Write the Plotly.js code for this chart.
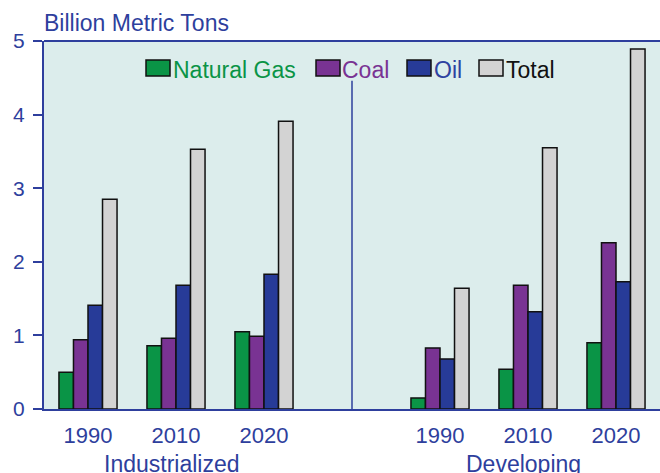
<!DOCTYPE html>
<html>
<head>
<meta charset="utf-8">
<script src="https://cdn.plot.ly/plotly-3.0.1.min.js"></script>
<style>html,body{margin:0;padding:0;background:#fff;}#chart{width:660px;height:473px;}</style>
</head>
<body>
<div id="chart"></div>
<script>
// ---- data ----
var years = ['1990', '2010', '2020', '1990', '2010', '2020'];
var regions = ['Industrialized', 'Developing'];
var naturalGas = [0.50, 0.86, 1.05, 0.15, 0.54, 0.90];
var coal       = [0.94, 0.96, 0.99, 0.83, 1.68, 2.26];
var oil        = [1.41, 1.68, 1.83, 0.68, 1.32, 1.73];
var total      = [2.85, 3.53, 3.91, 1.64, 3.55, 4.89];
var seriesNames = ['Natural Gas', 'Coal', 'Oil', 'Total'];
var yTicks = [0, 1, 2, 3, 4, 5];

// ---- styles ----
var colors = ['#0a9446', '#793393', '#273b98', '#d3d3d3'];
var textColors = ['#0a9446', '#793393', '#2e42a0', '#111111'];
var axisColor = '#2e3f9d';
var font = 'Liberation Sans, Arial, sans-serif';

// slot positions: 3 industrialized groups, a gap, 3 developing groups
var xPos = years.map(function (y, i) { return i < 3 ? i : i + 1; });

var seriesData = [naturalGas, coal, oil, total];
var traces = seriesData.map(function (vals, k) {
  return {
    type: 'bar',
    name: seriesNames[k],
    x: xPos,
    y: vals,
    marker: { color: colors[k], line: { color: '#111', width: 1.5 } },
    hoverinfo: 'y+name'
  };
});

// manual legend (pixel positions converted to paper coords)
var L = 44, T = 41, W = 616, H = 368;
function px(x) { return (x - L) / W; }
function py(y) { return (T + H - y) / H; }
var legendItems = [
  { sx: 146, tx: 171 },
  { sx: 316, tx: 340 },
  { sx: 407, tx: 432 },
  { sx: 479, tx: 504 }
];
var shapes = [];
var annotations = [];
legendItems.forEach(function (it, k) {
  shapes.push({
    type: 'rect', xref: 'paper', yref: 'paper',
    x0: px(it.sx), x1: px(it.sx + 24), y0: py(76), y1: py(60),
    fillcolor: colors[k], line: { color: '#111', width: 1.5 }
  });
  annotations.push({
    xref: 'paper', yref: 'paper', x: px(it.tx), y: py(70),
    xanchor: 'left', yanchor: 'middle', showarrow: false,
    text: seriesNames[k], font: { family: font, size: 23, color: textColors[k] }
  });
});
// divider between groups
shapes.push({
  type: 'line', xref: 'x', yref: 'y', x0: 3, x1: 3, y0: 0, y1: 4.46,
  line: { color: axisColor, width: 1.5 }
});
// top border
shapes.push({
  type: 'line', xref: 'paper', yref: 'paper', x0: 0, x1: 1, y0: 1, y1: 1,
  line: { color: axisColor, width: 2 }
});
// region labels
annotations.push({
  xref: 'x', yref: 'paper', x: 0.95, y: py(464), xanchor: 'center', yanchor: 'middle',
  showarrow: false, text: regions[0], font: { family: font, size: 23, color: axisColor }
});
annotations.push({
  xref: 'x', yref: 'paper', x: 4.95, y: py(464), xanchor: 'center', yanchor: 'middle',
  showarrow: false, text: regions[1], font: { family: font, size: 23, color: axisColor }
});
// y-axis title
annotations.push({
  xref: 'paper', yref: 'paper', x: 0, y: py(23), xanchor: 'left', yanchor: 'middle',
  xshift: -2, showarrow: false, text: 'Billion Metric Tons',
  font: { family: font, size: 23, color: axisColor }
});

var layout = {
  width: 660, height: 473,
  margin: { l: L, r: 0, t: T, b: 473 - T - H, pad: 0 },
  paper_bgcolor: '#ffffff',
  plot_bgcolor: '#dcedec',
  barmode: 'group',
  bargap: 0.34,
  bargroupgap: 0,
  showlegend: false,
  font: { family: font, color: axisColor },
  xaxis: {
    range: [-0.5, 6.5],
    tickvals: xPos,
    ticktext: years,
    ticks: '',
    ticklabelstandoff: 6,
    showgrid: false,
    zeroline: false,
    showline: true,
    linecolor: axisColor,
    linewidth: 2,
    tickfont: { family: font, size: 22, color: axisColor },
    fixedrange: true
  },
  yaxis: {
    range: [0, 5],
    tickvals: yTicks,
    ticks: 'outside',
    ticklen: 9,
    tickwidth: 2,
    tickcolor: axisColor,
    ticklabelstandoff: 4,
    showgrid: false,
    zeroline: false,
    showline: true,
    linecolor: axisColor,
    linewidth: 2,
    tickfont: { family: font, size: 21, color: axisColor },
    fixedrange: true
  },
  shapes: shapes,
  annotations: annotations
};

Plotly.newPlot('chart', traces, layout, { displayModeBar: false, staticPlot: true });
</script>
</body>
</html>
